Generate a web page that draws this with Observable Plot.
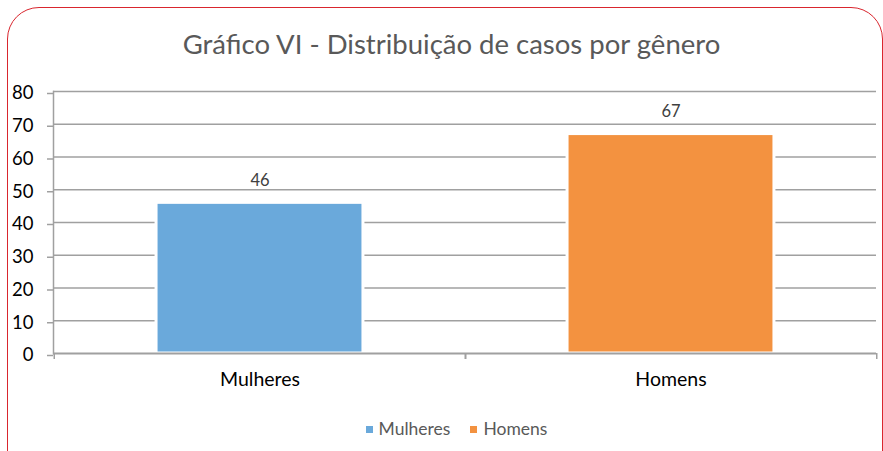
<!DOCTYPE html>
<html>
<head>
<meta charset="utf-8">
<script src="https://cdn.jsdelivr.net/npm/d3@7"></script>
<script src="https://cdn.jsdelivr.net/npm/@observablehq/plot@0.6"></script>
<style>
  html, body { margin: 0; padding: 0; background: #fff; overflow: hidden; width: 883px; height: 451px; }
  #frame { position: absolute; left: 7px; top: 7px; width: 876px; height: 500px; box-sizing: border-box;
           border: 1.5px solid #d9262e; border-radius: 32px; }
  #title { position: absolute; left: 0; top: 26px; width: 903px; text-align: center;
           font-family: Lato, sans-serif; font-size: 27.5px; color: #595959; line-height: 36px; }
  #chart { position: absolute; left: 0; top: 0; }
  #legend { position: absolute; left: 0; top: 418px; width: 913px; display: flex; justify-content: center;
            font-family: Lato, sans-serif; font-size: 17.5px; color: #595959; line-height: 22px; }
  .item { display: flex; align-items: center; margin: 0 10px; }
  .sw { width: 7px; height: 7px; margin-right: 6px; }
</style>
</head>
<body>
<div id="frame"></div>
<div id="title"></div>
<div id="chart"></div>
<div id="legend"></div>
<script>
const title = "Gráfico VI - Distribuição de casos por gênero";
const categories = ["Mulheres", "Homens"];
const values = [46, 67];
const colors = ["#6aa9db", "#f39240"];
const yTicks = [0, 10, 20, 30, 40, 50, 60, 70, 80];

const data = categories.map((c, i) => ({cat: c, value: values[i], color: colors[i]}));

document.getElementById("title").textContent = title;

const W = 883, H = 400, mL = 53, mR = 7;
const band = (W - mL - mR) / categories.length;
const grid = "#a0a0a0";

const chart = Plot.plot({
  width: W, height: H,
  marginLeft: mL, marginRight: mR, marginTop: 91, marginBottom: 47,
  style: {fontFamily: "Lato, sans-serif", background: "transparent", overflow: "visible"},
  x: {domain: categories, padding: 0},
  y: {domain: [0, 80]},
  marks: [
    Plot.ruleY(yTicks.slice(1), {stroke: grid, strokeWidth: 1.5}),
    Plot.axisY({ticks: yTicks, tickSize: 6, tickPadding: 14, fontSize: 18.5, fill: "#000", stroke: grid, strokeWidth: 1.5, dy: 2, label: null}),
    Plot.frame({anchor: "left", stroke: grid, strokeWidth: 1.5}),
    Plot.barY(data, {x: "cat", y: "value", fill: "color", stroke: "white", strokeWidth: 3, insetLeft: band * 0.248, insetRight: band * 0.248}),
    Plot.ruleY([0], {stroke: grid, strokeWidth: 2}),
    Plot.axisX({tickSize: 6, tickFormat: () => "", dx: -band / 2, stroke: grid, strokeWidth: 1.5, label: null}),
    Plot.axisX({tickSize: 6, tickFormat: () => "", dx: band / 2, stroke: grid, strokeWidth: 1.5, label: null}),
    Plot.axisX({tickSize: 0, tickPadding: 19, fontSize: 19.5, fill: "#000", label: null}),
    Plot.text(data, {x: "cat", y: "value", text: d => String(d.value), dy: -22, fontSize: 16.5, fill: "#404040"})
  ]
});
document.getElementById("chart").appendChild(chart);

const legend = document.getElementById("legend");
data.forEach(d => {
  const it = document.createElement("div");
  it.className = "item";
  const sw = document.createElement("span");
  sw.className = "sw";
  sw.style.background = d.color;
  const tx = document.createElement("span");
  tx.textContent = d.cat;
  it.appendChild(sw); it.appendChild(tx);
  legend.appendChild(it);
});
</script>
</body>
</html>
